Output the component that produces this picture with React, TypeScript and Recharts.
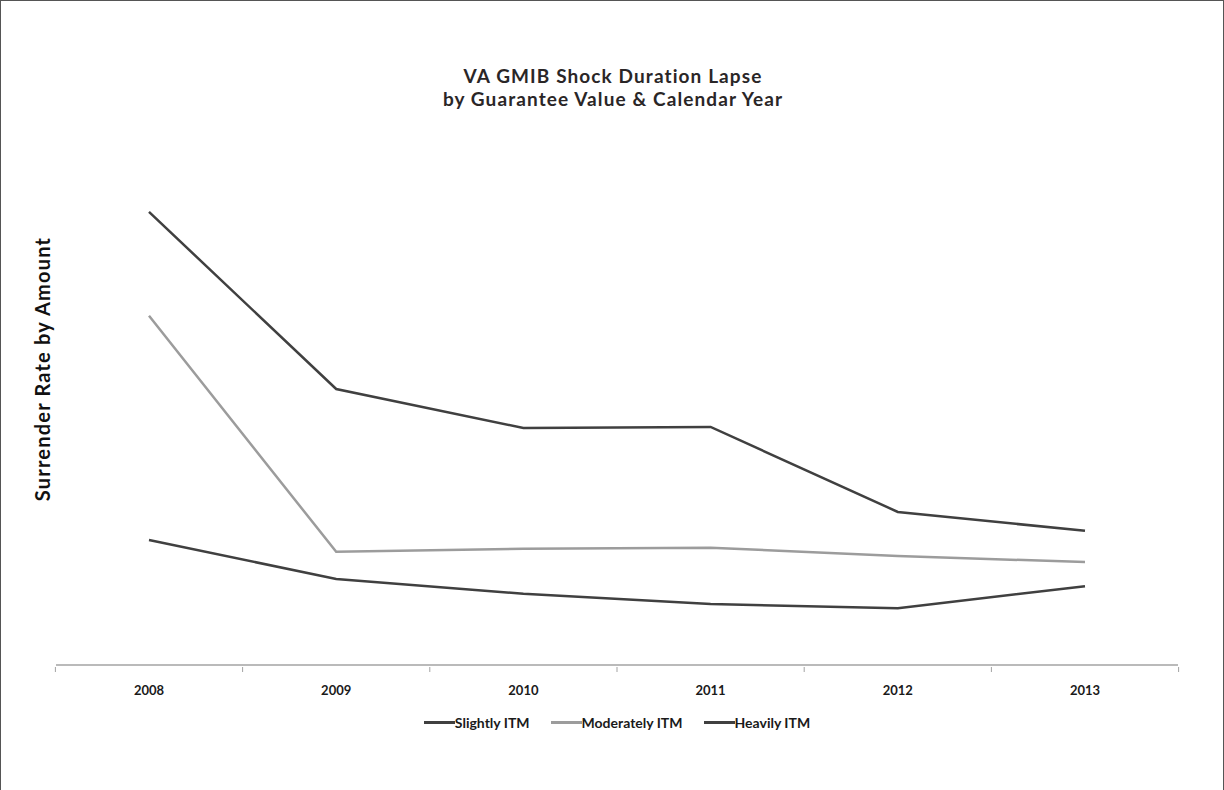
import React from "react"
import { LineChart, Line, XAxis, YAxis, Legend } from "recharts"

const years = ["2008", "2009", "2010", "2011", "2012", "2013"]
const seriesNames = ["Slightly ITM", "Moderately ITM", "Heavily ITM"]
const slightlyItm = [88.5, 53.9, 46.3, 46.5, 29.9, 26.2]
const moderatelyItm = [68.2, 22.1, 22.7, 22.9, 21.3, 20.1]
const heavilyItm = [24.4, 16.8, 13.9, 11.9, 11.1, 15.4]

const data = years.map((year, i) => ({
  year,
  slightly: slightlyItm[i],
  moderately: moderatelyItm[i],
  heavily: heavilyItm[i],
}))

const AXIS = "#a3a3a3"
const DARK = "#404040"
const LIGHT = "#9c9c9c"
const HALF_BAND = 93.6

// labels at category centres, tick marks on the band edges (Excel style)
function YearTick(props: any) {
  const { x, y, payload, index, visibleTicksCount } = props
  const axisY = y - 6
  const last = index === visibleTicksCount - 1
  return (
    <g>
      <line x1={x - HALF_BAND} x2={x - HALF_BAND} y1={axisY} y2={axisY + 5} stroke={AXIS} />
      {last && <line x1={x + HALF_BAND} x2={x + HALF_BAND} y1={axisY} y2={axisY + 5} stroke={AXIS} />}
      <text x={x} y={axisY + 28} textAnchor="middle" fontSize={13} fontWeight={700} fill="#1a1a1a">
        {payload.value}
      </text>
    </g>
  )
}

function LegendRow(props: any) {
  const items = [...(props.payload || [])].sort(
    (a: any, b: any) => seriesNames.indexOf(a.value) - seriesNames.indexOf(b.value)
  )
  return (
    <div style={{ display: "flex", justifyContent: "center", alignItems: "center", gap: 21 }}>
      {items.map((p: any) => (
        <div key={p.value} style={{ display: "flex", alignItems: "center" }}>
          <div style={{ width: 31, height: 3, background: p.color }} />
          <span style={{ fontSize: 14, fontWeight: 700, color: "#1a1a1a" }}>{p.value}</span>
        </div>
      ))}
    </div>
  )
}

export default function App() {
  return (
    <div
      style={{
        position: "absolute",
        left: 0,
        top: 0,
        width: 1224,
        height: 790,
        background: "#fff",
        fontFamily: "Lato, 'Open Sans', sans-serif",
        boxSizing: "border-box",
        borderTop: "1px solid #555",
        borderLeft: "1px solid #555",
        borderRight: "1px solid #555",
      }}
    >
      <div
        style={{
          position: "absolute",
          top: 63,
          left: 0,
          width: 1224,
          textAlign: "center",
          fontSize: 19,
          fontWeight: 700,
          letterSpacing: 1.1,
          lineHeight: "23px",
          color: "#2a2627",
        }}
      >
        VA GMIB Shock Duration Lapse
        <br />
        by Guarantee Value &amp; Calendar Year
      </div>
      <div
        style={{
          position: "absolute",
          left: 41,
          top: 368,
          transform: "translate(-50%, -50%) rotate(-90deg)",
          whiteSpace: "nowrap",
          fontSize: 20,
          fontWeight: 700,
          letterSpacing: 1.2,
          color: "#111",
        }}
      >
        Surrender Rate by Amount
      </div>
      <div style={{ position: "absolute", left: 0, top: 0 }}>
        <LineChart width={1224} height={790} data={data} margin={{ top: 152, right: 47, left: 55, bottom: 47 }}>
          <XAxis
            dataKey="year"
            padding={{ left: 93, right: 93 }}
            height={49}
            stroke={AXIS}
            strokeWidth={1.5}
            tickLine={false}
            tick={<YearTick />}
            interval={0}
          />
          <YAxis width={0} domain={[0, 100]} tick={false} tickLine={false} stroke={AXIS} strokeWidth={1.5} />
          <Legend verticalAlign="bottom" height={30} content={<LegendRow />} />
          <Line
            dataKey="slightly"
            name={seriesNames[0]}
            stroke={DARK}
            strokeWidth={2.5}
            dot={false}
            isAnimationActive={false}
          />
          <Line
            dataKey="moderately"
            name={seriesNames[1]}
            stroke={LIGHT}
            strokeWidth={2.5}
            dot={false}
            isAnimationActive={false}
          />
          <Line
            dataKey="heavily"
            name={seriesNames[2]}
            stroke={DARK}
            strokeWidth={2.5}
            dot={false}
            isAnimationActive={false}
          />
        </LineChart>
      </div>
    </div>
  )
}
